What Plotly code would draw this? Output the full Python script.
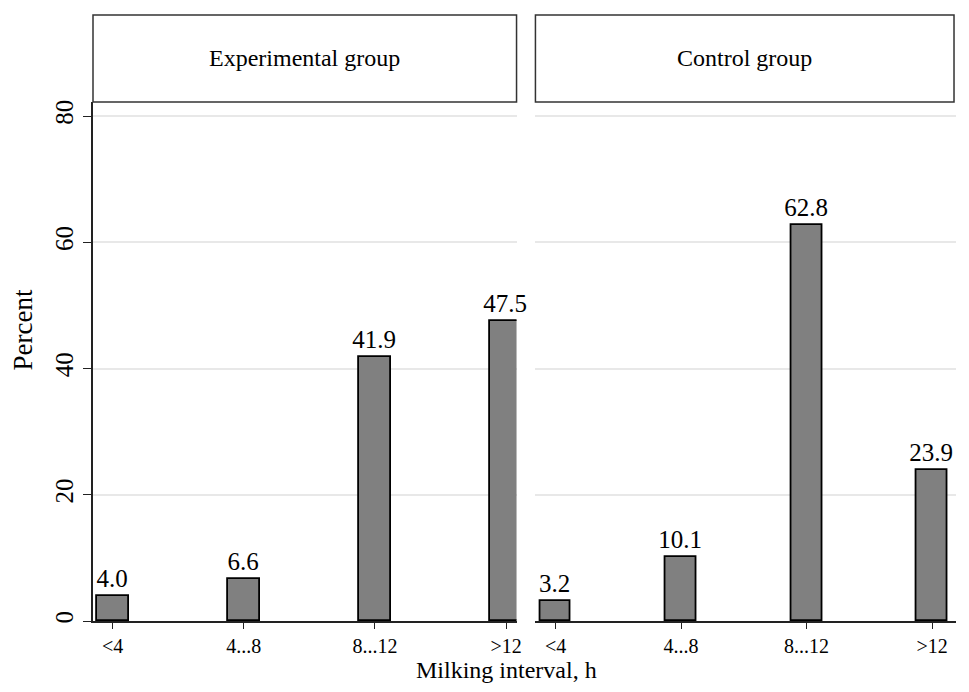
import plotly.graph_objects as go

categories = ["<4", "4...8", "8...12", ">12"]
experimental = [4.0, 6.6, 41.9, 47.5]
control = [3.2, 10.1, 62.8, 23.9]
panel_titles = ["Experimental group", "Control group"]
y_ticks = [0, 20, 40, 60, 80]

FONT = "Liberation Serif"
OFF = 8  # page body margin
W, H = 953, 676
ML, MT = 93 - OFF, 102 - OFF
PLOT_R = W
PLOT_B = 621 - OFF
MR = W - PLOT_R
MB = H - PLOT_B
PW = W - ML - MR
PH = H - MT - MB

def px2x(p):
    return (p - OFF - ML) / PW

def px2y(p):
    return (PLOT_B - (p - OFF)) / PH

xpos = list(range(len(categories)))

fig = go.Figure()
for i, vals in enumerate([experimental, control]):
    fig.add_trace(go.Bar(
        x=xpos, y=vals, width=0.245,
        marker=dict(color="#808080", line=dict(color="#000000", width=1.8)),
        text=[f"{v:.1f}" for v in vals], textposition="outside",
        textangle=0, constraintext="none", cliponaxis=False,
        textfont=dict(family=FONT, size=25, color="#000000"),
        xaxis="x" if i == 0 else "x2", yaxis="y" if i == 0 else "y2",
        showlegend=False, hoverinfo="skip",
    ))

dom_left = [0, px2x(519)]
dom_right = [px2x(538), 1]
xcommon = dict(tickvals=xpos, ticktext=categories,
               showline=True, linecolor="#222222", linewidth=1.5,
               ticks="outside", ticklen=6, tickcolor="#222222", tickwidth=1.2,
               showgrid=False, zeroline=False,
               tickfont=dict(family=FONT, size=20, color="#000000"))
ycommon = dict(range=[0, (621 - 102) / ((621 - 116) / 80)], tickvals=y_ticks,
               showgrid=True, gridcolor="#e8e8e8", gridwidth=1.5, zeroline=False)

fig.update_layout(
    width=W, height=H,
    margin=dict(l=ML, r=MR, t=MT, b=MB),
    plot_bgcolor="white", paper_bgcolor="white",
    bargap=0,
    xaxis=dict(domain=dom_left, anchor="y", range=[-0.15, 3.08], **xcommon),
    xaxis2=dict(domain=dom_right, anchor="y2", range=[-0.16, 3.19], **xcommon),
    yaxis=dict(anchor="x", showline=True, linecolor="#222222", linewidth=1.5,
               ticks="outside", ticklen=8, tickcolor="#222222", tickwidth=1.2,
               tickangle=-90, tickfont=dict(family=FONT, size=25, color="#000000"),
               **ycommon),
    yaxis2=dict(anchor="x2", showline=False, ticks="", showticklabels=False,
                **ycommon),
    font=dict(family=FONT, color="#000000"),
)

shapes = []
annotations = []
for dom, title in zip([dom_left, dom_right], panel_titles):
    x1 = dom[1] if dom[1] < 1 else px2x(959)
    shapes.append(dict(type="rect", xref="paper", yref="paper",
                       x0=dom[0], x1=x1, y0=1.0, y1=px2y(15),
                       line=dict(color="#333333", width=1.5), fillcolor="white"))
    annotations.append(dict(text=title, xref="paper", yref="paper",
                            x=(dom[0] + x1) / 2, y=px2y(58),
                            xanchor="center", yanchor="middle", showarrow=False,
                            font=dict(family=FONT, size=24, color="#000000")))

annotations.append(dict(text="Percent", xref="paper", yref="paper",
                        x=px2x(23), y=px2y(330), textangle=-90,
                        xanchor="center", yanchor="middle", showarrow=False,
                        font=dict(family=FONT, size=27, color="#000000")))
annotations.append(dict(text="Milking interval, h", xref="paper", yref="paper",
                        x=px2x(509), y=px2y(670),
                        xanchor="center", yanchor="middle", showarrow=False,
                        font=dict(family=FONT, size=24, color="#000000")))

fig.update_layout(shapes=shapes, annotations=annotations)
fig.write_html("out.html")
